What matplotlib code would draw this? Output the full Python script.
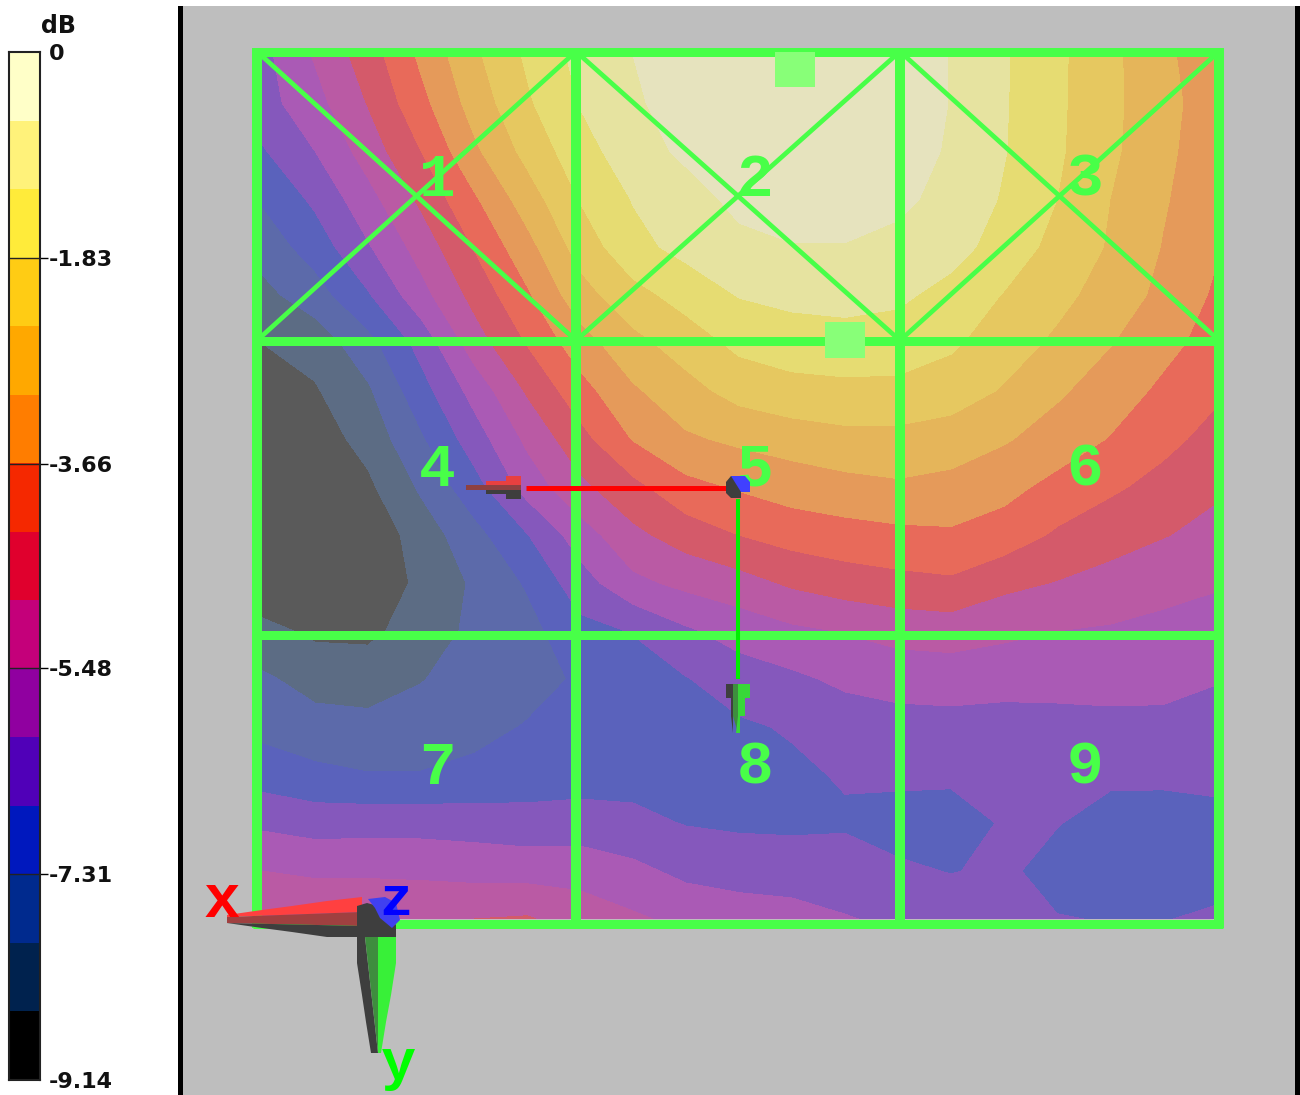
import numpy as np
import matplotlib
matplotlib.use("Agg")
import matplotlib.pyplot as plt
from matplotlib.colors import ListedColormap, BoundaryNorm
from matplotlib.patches import Polygon, Rectangle

W, H = 1300, 1095
BG = "#BEBEBE"
GREEN = "#48FF48"
DARK = "#3E3E3E"

# colour scale
db_min = -9.14
n_bands = 15
db_step = -db_min / n_bands
bar_colors = ["#FFFFC8", "#FFF27A", "#FFEB3A", "#FFCC14", "#FFA800",
              "#FF7D00", "#F52800", "#E0002D", "#C4007A", "#9000A0",
              "#5000B8", "#0018BE", "#002A8E", "#00224E", "#000000"]
field_colors = ["#E6E3BE", "#E6E3A0", "#E6DC72", "#E6C860", "#E5B55A",
                "#E59A5A", "#E86A5A", "#D45A6A", "#BA5AA4", "#AA5AB5",
                "#8558BC", "#5A62BC", "#5C6AAA", "#5C6C84", "#5A5A5A"]
tick_values = [0, -1.83, -3.66, -5.48, -7.31, -9.14]
tick_labels = ["0", "-1.83", "-3.66", "-5.48", "-7.31", "-9.14"]

# field, in colour-band units (0 = top of scale)
field_x = [262, 315, 368, 421, 474, 527, 580, 633, 686, 739, 792, 845, 898, 951, 1004, 1057, 1110, 1163, 1216]
field_y = [55, 103, 151, 199, 247, 295, 343, 391, 439, 487, 535, 583, 631, 679, 727, 775, 823, 871, 919]
field_bands = [
    [10.3, 8.9, 7.5, 5.8, 4.2, 2.85, 1.7, 1.0, 0.7, 0.4, 0.3, 0.3, 0.5, 1.03, 1.9, 2.8, 3.75, 4.8, 5.6],
    [10.4, 9.35, 7.95, 6.3, 4.6, 3.15, 1.95, 1.1, 0.7, 0.4, 0.3, 0.3, 0.5, 1.03, 1.92, 2.82, 3.75, 4.7, 5.5],
    [11.1, 10.0, 8.55, 7.0, 5.2, 3.7, 2.4, 1.45, 0.8, 0.5, 0.35, 0.35, 0.6, 1.1, 1.95, 2.85, 3.8, 4.75, 5.65],
    [11.9, 10.8, 9.35, 7.8, 6.15, 4.5, 2.95, 1.95, 1.4, 0.75, 0.5, 0.5, 0.8, 1.3, 2.1, 3.0, 4.0, 4.9, 5.7],
    [12.6, 11.55, 10.1, 8.6, 6.95, 5.35, 3.6, 2.3, 1.7, 1.25, 1.05, 1.05, 1.25, 1.6, 2.45, 3.3, 4.1, 5.05, 5.9],
    [13.3, 12.45, 11.1, 9.35, 7.7, 6.15, 4.4, 3.35, 2.6, 1.95, 1.7, 1.65, 1.8, 2.35, 3.05, 3.7, 4.45, 5.25, 6.15],
    [14.0, 13.6, 12.35, 10.65, 8.5, 6.95, 5.45, 4.3, 3.55, 2.75, 2.55, 2.4, 2.5, 2.85, 3.5, 4.2, 4.95, 5.7, 6.4],
    [14.5, 14.1, 13.15, 11.4, 9.65, 7.9, 6.4, 5.15, 4.35, 3.65, 3.3, 3.25, 3.25, 3.5, 4.1, 4.85, 5.5, 6.2, 6.85],
    [14.7, 14.5, 13.65, 12.15, 10.5, 8.8, 7.35, 5.95, 5.15, 4.8, 4.55, 4.3, 4.3, 4.5, 4.9, 5.45, 6.05, 6.75, 7.3],
    [14.8, 14.7, 14.2, 12.85, 11.4, 9.6, 8.25, 7.3, 6.3, 5.9, 5.55, 5.33, 5.15, 5.3, 5.7, 6.3, 6.85, 7.3, 7.85],
    [14.8, 14.8, 14.7, 13.55, 12.35, 11.05, 9.5, 8.25, 7.55, 7.0, 6.6, 6.4, 6.25, 6.15, 6.45, 7.15, 7.55, 7.95, 8.3],
    [14.8, 14.8, 14.5, 13.85, 12.85, 11.9, 10.45, 9.25, 8.75, 8.4, 7.85, 7.5, 7.3, 7.17, 7.75, 8.05, 8.4, 8.7, 8.9],
    [13.7, 14.2, 14.25, 13.5, 12.8, 12.35, 11.3, 10.95, 10.15, 9.6, 9.2, 8.95, 8.65, 8.55, 8.8, 9.0, 9.1, 9.25, 9.45],
    [12.85, 13.35, 13.4, 13.05, 12.55, 12.3, 11.9, 11.5, 11.05, 10.5, 10.2, 9.8, 9.6, 9.55, 9.6, 9.6, 9.55, 9.6, 9.95],
    [12.3, 12.65, 12.75, 12.55, 12.25, 11.95, 11.65, 11.55, 11.4, 11.15, 10.9, 10.55, 10.4, 10.35, 10.45, 10.4, 10.35, 10.35, 10.35],
    [11.45, 11.75, 11.95, 11.95, 11.8, 11.55, 11.4, 11.35, 11.3, 11.3, 11.2, 10.9, 10.75, 10.8, 10.75, 10.75, 10.8, 10.8, 10.75],
    [10.2, 10.45, 10.4, 10.4, 10.45, 10.6, 10.6, 10.75, 11.05, 11.15, 11.2, 11.15, 11.5, 11.5, 10.9, 10.95, 11.4, 11.45, 11.3],
    [9.0, 9.15, 9.15, 9.2, 9.35, 9.4, 9.35, 9.75, 10.25, 10.45, 10.45, 10.45, 10.8, 11.05, 10.8, 11.4, 11.8, 11.8, 11.5],
    [8.15, 8.2, 8.2, 8.2, 8.0, 7.9, 8.5, 8.85, 9.25, 9.45, 9.65, 9.95, 10.15, 10.25, 10.4, 10.95, 11.05, 11.05, 10.8],
]

# panel grid
grid_x = [257, 576, 900, 1219]
grid_y = [51.5, 340.5, 634.5, 923.5]
panel_labels = ["1", "2", "3", "4", "5", "6", "7", "8", "9"]
label_x = [437, 755, 1085]
label_y = [180, 470, 768]

fig = plt.figure(figsize=(W / 100, H / 100), dpi=100, facecolor="white")
ax = fig.add_axes([0, 0, 1, 1])
ax.set_xlim(0, W)
ax.set_ylim(H, 0)
ax.axis("off")


def poly(points, color, z):
    ax.add_patch(Polygon(points, fc=color, ec="none", zorder=z))


ax.add_patch(Rectangle((182, 6), 1113, H - 6, fc=BG, ec="none", zorder=0))
ax.add_patch(Rectangle((178, 6), 5, H - 6, fc="black", ec="none", zorder=1))
ax.add_patch(Rectangle((1295, 6), 5, H - 6, fc="black", ec="none", zorder=1))

levels = [db_min + i * db_step for i in range(n_bands + 1)]
field_db = -np.array(field_bands) * db_step
ax.contourf(field_x, field_y, np.clip(field_db, db_min + 1e-3, -1e-3), levels=levels,
            colors=field_colors[::-1], antialiased=False, zorder=2)

for x in grid_x:
    ax.plot([x, x], [grid_y[0] - 4, grid_y[-1] + 4], color=GREEN, lw=10 * 0.72, zorder=3, solid_capstyle="butt")
for y in grid_y:
    ax.plot([grid_x[0] - 4, grid_x[-1] + 4], [y, y], color=GREEN, lw=9 * 0.72, zorder=3, solid_capstyle="butt")
for x0, x1 in zip(grid_x[:-1], grid_x[1:]):
    ax.plot([x0, x1], [grid_y[0], grid_y[1]], color=GREEN, lw=3.4, zorder=3)
    ax.plot([x0, x1], [grid_y[1], grid_y[0]], color=GREEN, lw=3.4, zorder=3)

ax.add_patch(Rectangle((775, 52), 40, 35, fc="#88FF78", ec="none", zorder=4))
ax.add_patch(Rectangle((825, 322), 40, 36, fc="#88FF78", ec="none", zorder=4))

k = 0
for ly in label_y:
    for lx in label_x:
        ax.text(lx, ly, panel_labels[k], color=GREEN, fontsize=44, fontweight="bold",
                family="Liberation Mono", ha="center", va="center", zorder=5)
        k += 1

# centre triad
ax.plot([526, 726], [487.5, 487.5], color="#FF0000", lw=3.6, zorder=6, solid_capstyle="butt")
ax.plot([738, 738], [499, 679], color="#00F000", lw=2.9, zorder=6, solid_capstyle="butt")
poly([(486, 485), (486, 481), (506, 481), (506, 476), (521, 476), (521, 485)], "#E84040", 6)
poly([(466, 485), (521, 485), (521, 490), (466, 490)], "#8E4040", 6)
poly([(486, 490), (521, 490), (521, 499), (506, 499), (506, 494), (486, 494)], DARK, 6)
poly([(726, 684), (733, 684), (733, 733), (731, 716), (731, 698), (726, 698)], DARK, 6)
poly([(733, 684), (738, 684), (738, 733), (733, 716)], "#3E8E3E", 6)
poly([(738, 684), (750, 684), (750, 698), (745, 698), (745, 716), (740, 716), (740, 733), (736, 733), (738, 716)], "#38D838", 6)
poly([(726, 482), (731, 476), (741, 476), (741, 498), (731, 498), (726, 493)], DARK, 7)
poly([(731, 476), (745, 476), (750, 482), (750, 492), (741, 492), (736, 484)], "#4040FF", 7)

# corner triad
poly([(227, 915), (262, 910), (292, 906), (327, 901), (362, 897), (362, 912), (227, 917)], "#FF4040", 6)
poly([(227, 917), (362, 912), (362, 926), (227, 923)], "#A04040", 6)
poly([(227, 923), (362, 926), (362, 937), (327, 937), (292, 932), (262, 928)], DARK, 6)
poly([(357, 937), (365, 937), (378, 1053), (371, 1053), (366, 1022), (362, 995), (357, 963)], DARK, 6)
poly([(365, 937), (378, 937), (378, 1053)], "#3E8E3E", 6)
poly([(378, 937), (396, 937), (396, 963), (391, 995), (386, 1022), (381, 1053), (378, 1053)], "#38F038", 6)
poly([(357, 906), (367, 903), (385, 908), (396, 925), (396, 937), (357, 937)], DARK, 7)
poly([(368, 899), (385, 897), (396, 903), (400, 920), (392, 928), (380, 918), (375, 908)], "#4040F0", 8)
ax.text(222, 901, "x", color="#FF0000", fontsize=44, fontweight="bold", family="Liberation Mono", ha="center", va="center", zorder=9)
ax.text(396, 901, "z", color="#0000FF", fontsize=40, fontweight="bold", family="Liberation Mono", ha="center", va="center", zorder=9)
ax.text(398, 1064, "y", color="#00FF00", fontsize=42, fontweight="bold", family="Liberation Mono", ha="center", va="center", zorder=9)

# colour bar
cax = fig.add_axes([9 / W, 1 - 1080 / H, 31 / W, (1080 - 52) / H])
cax.pcolormesh([0, 1], levels, np.array(levels[:-1])[:, None] + db_step / 2,
               cmap=ListedColormap(bar_colors[::-1]), norm=BoundaryNorm(levels, n_bands))
cax.set_xlim(0, 1)
cax.set_ylim(db_min, 0)
cax.set_xticks([])
cax.yaxis.tick_right()
cax.set_yticks(tick_values)
cax.set_yticklabels(tick_labels, fontsize=16, fontweight="bold", color="#111111")
cax.tick_params(axis="y", length=5.5, width=1, pad=1)
for t in cax.yaxis.get_major_ticks():
    if t.get_loc() in (0, db_min):
        t.tick2line.set_visible(False)
for v in tick_values[1:-1]:
    cax.axhline(v, color="#222222", lw=1)
for s in cax.spines.values():
    s.set_linewidth(1.5)
    s.set_color("#222222")
ax.text(58, 26, "dB", fontsize=17, fontweight="bold", color="#111111", ha="center", va="center")

fig.savefig("out.png", dpi=100)
